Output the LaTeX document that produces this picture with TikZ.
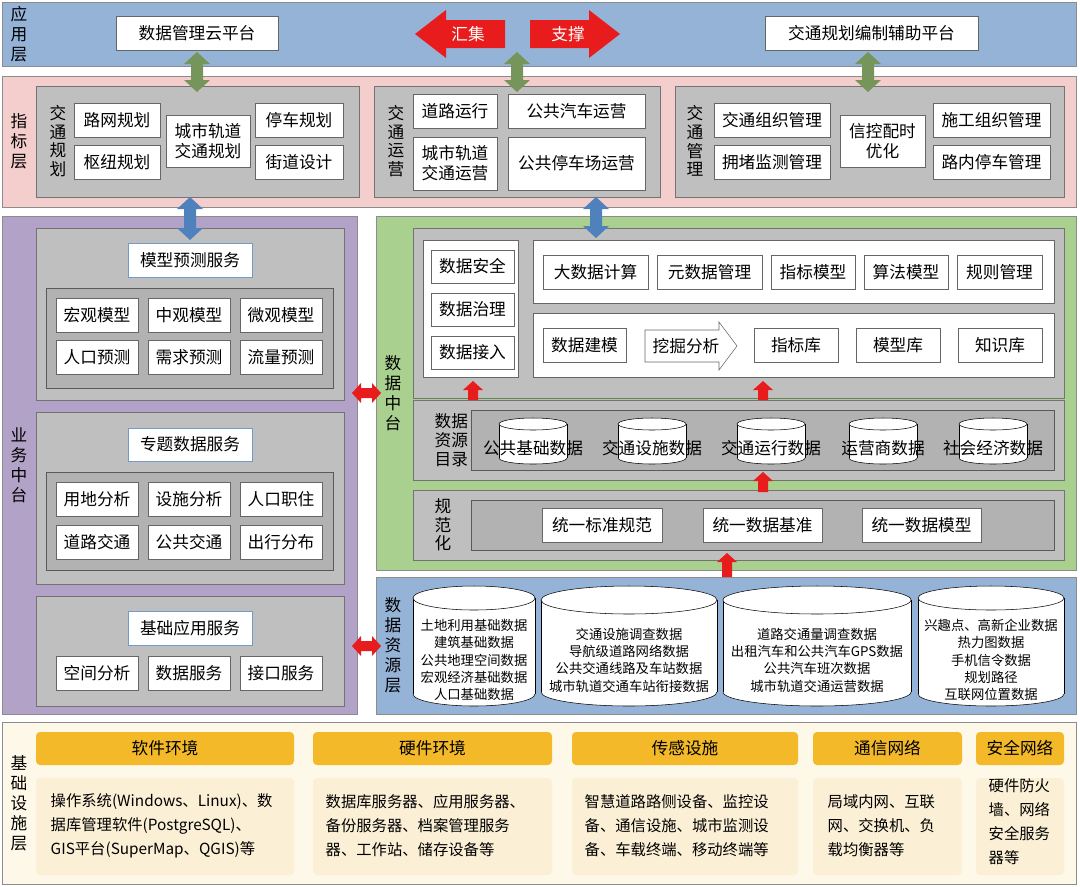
\documentclass[tikz,border=0pt]{standalone}
\usepackage{fontspec}
\setmainfont{Noto Sans CJK SC}
\usetikzlibrary{fit}
\definecolor{appb}{HTML}{95B3D7}
\definecolor{pinkb}{HTML}{F4CDCD}
\definecolor{grayb}{HTML}{BFBFBF}
\definecolor{purpb}{HTML}{B3A2C7}
\definecolor{greenb}{HTML}{A9D08E}
\definecolor{creamb}{HTML}{FEF8E8}
\definecolor{orgb}{HTML}{F3B928}
\definecolor{bodyb}{HTML}{FBF0D6}
\definecolor{arrg}{HTML}{76955A}
\definecolor{arrb}{HTML}{4F81BD}
\definecolor{arrr}{HTML}{E81C1C}
\newcommand\mybx[6][wb]{\node[#1,fit={(#2,#3)(#4,#5)},inner sep=0pt,label={[align=center,font=\fontsize{12.5}{15}\selectfont]center:{#6}}] {};}
\newcommand\myreg[6]{\draw[#1] (#2,#3) rectangle (#4,#5); \node[align=center,font=\fontsize{12.5}{15}\selectfont,text width=1.1em] at ({#2+16},{(#3+#5)/2}) {#6};}
\newcommand\myvl[3]{\node[align=center,font=\fontsize{12.5}{14}\selectfont,text width=1.1em] at (#1,#2) {#3};}
\newcommand\mydbl[4]{\fill[#4] (#1-6,#2+12) -- (#1-13,#2+12) -- (#1,#2) -- (#1+13,#2+12) -- (#1+6,#2+12) -- (#1+6,#3-12) -- (#1+13,#3-12) -- (#1,#3) -- (#1-13,#3-12) -- (#1-6,#3-12) -- cycle;}
\newcommand\myhdbl[3]{\fill[arrr] (#1+9,#3-5) -- (#1+9,#3-10) -- (#1,#3) -- (#1+9,#3+10) -- (#1+9,#3+5) -- (#2-9,#3+5) -- (#2-9,#3+10) -- (#2,#3) -- (#2-9,#3-10) -- (#2-9,#3-5) -- cycle;}
\newcommand\myup[3]{\fill[arrr] (#1-5,#3) -- (#1-5,#2+9) -- (#1-10,#2+9) -- (#1,#2) -- (#1+10,#2+9) -- (#1+5,#2+9) -- (#1+5,#3) -- cycle;}
\newcommand\mycyl[6]{%
 \fill[white] (#1,#3+#5) rectangle (#2,#4-#5);
 \fill[white] ({(#1+#2)/2},#4-#5) ellipse ({(#2-#1)/2} and #5);
 \draw (#1,#3+#5) -- (#1,#4-#5) (#2,#3+#5) -- (#2,#4-#5);
 \draw (#1,#4-#5) arc[start angle=180,end angle=0,x radius={(#2-#1)/2},y radius=#5];
 \draw[fill=white] ({(#1+#2)/2},#3+#5) ellipse ({(#2-#1)/2} and #5);
 \node[align=center,font=\fontsize{10}{13}\selectfont] at ({(#1+#2)/2},{(#3+#4)/2+14}) {#6};}
\begin{document}
\begin{tikzpicture}[x=0.75pt,y=-0.75pt,
 wb/.style={draw=black!60,fill=white},
 bb/.style={draw=arrb!80,fill=white},
 gb/.style={draw=black!55,fill=grayb},
 gi/.style={draw=black!65,fill=black!30},
 lay/.style={draw=black!45},
 ob/.style={fill=orgb,rounded corners=3pt},
 cb/.style={fill=bodyb,rounded corners=3pt}]
\useasboundingbox (0,0) rectangle (1080,886);
\fill[white] (0,0) rectangle (1080,886);
% application layer
\myreg{lay,fill=appb}{2}{2}{1076}{66}{应\\用\\层}
\mybx{116}{16}{278}{50}{数据管理云平台}
\mybx{765}{16}{978}{50}{交通规划编制辅助平台}
\fill[arrr] (415,34) -- (446,10) -- (446,20) -- (505,20) -- (505,48) -- (446,48) -- (446,58) -- cycle;
\node[white,font=\fontsize{12.5}{15}\selectfont] at (468,34) {汇集};
\fill[arrr] (620,34) -- (589,10) -- (589,20) -- (530,20) -- (530,48) -- (589,48) -- (589,58) -- cycle;
\node[white,font=\fontsize{12.5}{15}\selectfont] at (568,34) {支撑};
% index layer
\myreg{lay,fill=pinkb}{2}{76}{1076}{207}{指\\标\\层}
\draw[gb] (36,86) rectangle (359,197); \myvl{57}{141}{交\\通\\规\\划}
\mybx{74}{103}{160}{137}{路网规划}
\mybx{74}{145}{160}{179}{枢纽规划}
\mybx{166}{115}{250}{167}{城市轨道\\交通规划}
\mybx{255}{103}{343}{137}{停车规划}
\mybx{255}{145}{343}{179}{街道设计}
\draw[gb] (374,86) rectangle (660,197); \myvl{395}{141}{交\\通\\运\\营}
\mybx{413}{94}{497}{128}{道路运行}
\mybx{508}{94}{645}{128}{公共汽车运营}
\mybx{413}{137}{497}{190}{城市轨道\\交通运营}
\mybx{508}{137}{645}{190}{公共停车场运营}
\draw[gb] (675,86) rectangle (1064,197); \myvl{694}{141}{交\\通\\管\\理}
\mybx{714}{103}{830}{137}{交通组织管理}
\mybx{714}{145}{830}{179}{拥堵监测管理}
\mybx{840}{115}{925}{167}{信控配时\\优化}
\mybx{933}{103}{1050}{137}{施工组织管理}
\mybx{933}{145}{1050}{179}{路内停车管理}
\mydbl{197}{52}{92}{arrg}
\mydbl{517}{52}{92}{arrg}
\mydbl{868}{52}{92}{arrg}
% business middle
\myreg{lay,fill=purpb}{2}{216}{357}{714}{业\\务\\中\\台}
\draw[gb] (36,228) rectangle (344,400);
\mybx[bb]{128}{243}{252}{277}{模型预测服务}
\draw[gi] (46,288) rectangle (333,388);
\mybx{56}{298}{138}{332}{宏观模型}\mybx{148}{298}{230}{332}{中观模型}\mybx{240}{298}{322}{332}{微观模型}
\mybx{56}{340}{138}{374}{人口预测}\mybx{148}{340}{230}{374}{需求预测}\mybx{240}{340}{322}{374}{流量预测}
\draw[gb] (36,412) rectangle (344,584);
\mybx[bb]{128}{428}{252}{461}{专题数据服务}
\draw[gi] (46,472) rectangle (333,570);
\mybx{56}{482}{138}{516}{用地分析}\mybx{148}{482}{230}{516}{设施分析}\mybx{240}{482}{322}{516}{人口职住}
\mybx{56}{525}{138}{559}{道路交通}\mybx{148}{525}{230}{559}{公共交通}\mybx{240}{525}{322}{559}{出行分布}
\draw[gb] (36,596) rectangle (344,706);
\mybx[bb]{128}{611}{252}{645}{基础应用服务}
\mybx{56}{656}{138}{690}{空间分析}\mybx{148}{656}{230}{690}{数据服务}\mybx{240}{656}{322}{690}{接口服务}
% data middle
\myreg{lay,fill=greenb}{376}{216}{1076}{570}{数\\据\\中\\台}
\draw[gb] (413,228) rectangle (1064,398);
\draw[wb] (423,240) rectangle (518,377);
\mybx{431}{250}{514}{283}{数据安全}
\mybx{431}{293}{514}{326}{数据治理}
\mybx{431}{336}{514}{369}{数据接入}
\draw[wb] (533,240) rectangle (1054,303);
\mybx{543}{255}{648}{289}{大数据计算}\mybx{657}{255}{762}{289}{元数据管理}\mybx{771}{255}{855}{289}{指标模型}\mybx{864}{255}{948}{289}{算法模型}\mybx{957}{255}{1042}{289}{规则管理}
\draw[wb] (533,313) rectangle (1054,377);
\mybx{543}{328}{626}{362}{数据建模}
\draw[wb] (645,330) -- (719,330) -- (719,322) -- (737,346) -- (719,370) -- (719,362) -- (645,362) -- cycle;
\node[font=\fontsize{12.5}{15}\selectfont] at (686,346) {挖掘分析};
\mybx{754}{328}{838}{362}{指标库}\mybx{856}{328}{940}{362}{模型库}\mybx{958}{328}{1042}{362}{知识库}
\draw[gb] (413,400) rectangle (1064,480);
\myvl{442}{440}{数据\\资源\\目录}
\draw[gi] (471,410) rectangle (1054,470);
\foreach \c in {533,652,771,883,993}{
 \fill[white] (\c-34,424) rectangle (\c+34,458);
 \fill[white] (\c,458) ellipse (34 and 6);
 \draw (\c-34,424) -- (\c-34,458) (\c+34,424) -- (\c+34,458);
 \draw (\c-34,458) arc[start angle=180,end angle=0,x radius=34,y radius=6];
 \draw[fill=white] (\c,424) ellipse (34 and 6);}
\node[font=\fontsize{12.5}{15}\selectfont] at (533,448) {公共基础数据};
\node[font=\fontsize{12.5}{15}\selectfont] at (652,448) {交通设施数据};
\node[font=\fontsize{12.5}{15}\selectfont] at (771,448) {交通运行数据};
\node[font=\fontsize{12.5}{15}\selectfont] at (883,448) {运营商数据};
\node[font=\fontsize{12.5}{15}\selectfont] at (993,448) {社会经济数据};
\draw[gb] (413,490) rectangle (1064,560);
\myvl{442}{525}{规\\范\\化}
\draw[gi] (471,500) rectangle (1054,550);
\mybx{542}{508}{662}{542}{统一标准规范}\mybx{703}{508}{822}{542}{统一数据基准}\mybx{862}{508}{981}{542}{统一数据模型}
\myup{473}{381}{400}\myup{763}{381}{400}\myup{763}{472}{492}\myup{727}{553}{580}
% data resource layer
\myreg{lay,fill=appb}{376}{577}{1076}{714}{数\\据\\资\\源\\层}
\mycyl{413}{535}{586}{706}{12}{土地利用基础数据\\建筑基础数据\\公共地理空间数据\\宏观经济基础数据\\人口基础数据}
\mycyl{541}{717}{586}{706}{14}{交通设施调查数据\\导航级道路网络数据\\公共交通线路及车站数据\\城市轨道交通车站衔接数据}
\mycyl{723}{911}{586}{706}{14}{道路交通量调查数据\\出租汽车和公共汽车GPS数据\\公共汽车班次数据\\城市轨道交通运营数据}
\mycyl{918}{1064}{586}{706}{12}{兴趣点、高新企业数据\\热力图数据\\手机信令数据\\规划路径\\互联网位置数据}
% arrows between
\mydbl{190}{197}{240}{arrb}
\mydbl{596}{197}{238}{arrb}
\myhdbl{352}{381}{393}
\myhdbl{352}{381}{646}
% infrastructure
\myreg{lay,fill=creamb}{2}{722}{1076}{884}{基\\础\\设\\施\\层}
\mybx[ob]{36}{732}{294}{765}{软件环境}
\mybx[ob]{313}{732}{552}{765}{硬件环境}
\mybx[ob]{572}{732}{798}{765}{传感设施}
\mybx[ob]{813}{732}{962}{765}{通信网络}
\mybx[ob]{976}{732}{1064}{765}{安全网络}
\fill[bodyb,rounded corners=3pt] (36,778) rectangle (294,875);
\fill[bodyb,rounded corners=3pt] (313,778) rectangle (552,875);
\fill[bodyb,rounded corners=3pt] (572,778) rectangle (798,875);
\fill[bodyb,rounded corners=3pt] (813,778) rectangle (962,875);
\fill[bodyb,rounded corners=3pt] (976,778) rectangle (1064,875);
\node[align=left,anchor=west,font=\fontsize{11.5}{18}\selectfont] at (46,826) {操作系统(Windows、Linux)、数\\据库管理软件(PostgreSQL)、\\GIS平台(SuperMap、QGIS)等};
\node[align=left,anchor=west,font=\fontsize{11.5}{18}\selectfont] at (321,826) {数据库服务器、应用服务器、\\备份服务器、档案管理服务\\器、工作站、储存设备等};
\node[align=left,anchor=west,font=\fontsize{11.5}{18}\selectfont] at (580,826) {智慧道路路侧设备、监控设\\备、通信设施、城市监测设\\备、车载终端、移动终端等};
\node[align=left,anchor=west,font=\fontsize{11.5}{18}\selectfont] at (823,826) {局域内网、互联\\网、交换机、负\\载均衡器等};
\node[align=left,anchor=west,font=\fontsize{11.5}{18}\selectfont] at (984,822) {硬件防火\\墙、网络\\安全服务\\器等};
\end{tikzpicture}
\end{document}
